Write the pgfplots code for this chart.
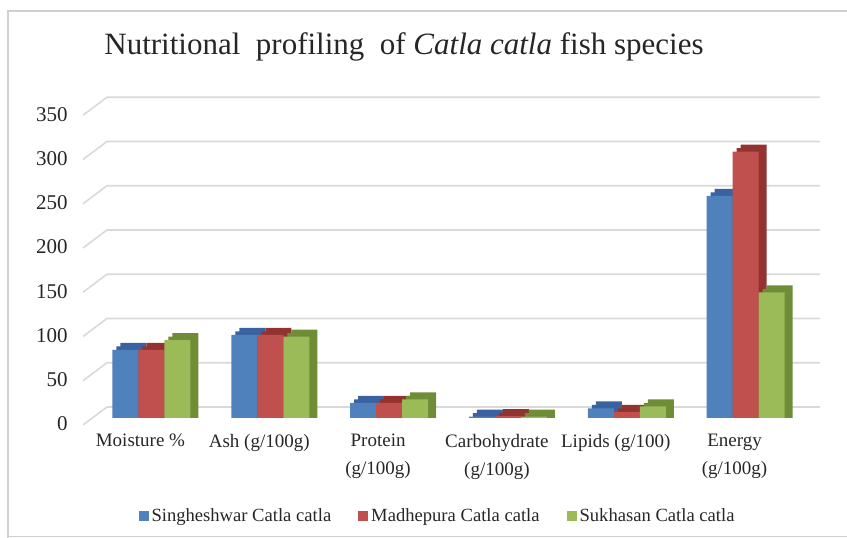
\documentclass[border=0pt]{standalone}
\usepackage{fontspec}
\setmainfont{Liberation Serif}
\usepackage{pgfplots}
\pgfplotsset{compat=1.18}
\usepackage{pgfplotstable}
\definecolor{cb}{HTML}{4F81BD}
\definecolor{cr}{HTML}{C0504D}
\definecolor{cg}{HTML}{9BBB59}
\definecolor{cbd}{HTML}{3A62A0}
\definecolor{crd}{HTML}{93332F}
\definecolor{cgd}{HTML}{6F8C37}
\definecolor{gridc}{HTML}{D9D9D9}
\definecolor{bordc}{HTML}{D0D0D0}
\definecolor{txt}{HTML}{262626}
\pgfplotstableread{
x b r g
0 77 77 88
1 94 94 92
2 17 17 21
3 1.5 2 1.5
4 11 7 13
5 251 301 142
}\datatable
\begin{document}
\begin{tikzpicture}[x=1bp,y=1bp]
\draw[bordc, line width=1.2bp] (8,0) -- (8,527) -- (847,527);
\draw[bordc, line width=1bp] (8,1.5) -- (847,1.5);
\node[font=\fontsize{31bp}{36bp}\selectfont, text=txt] at (404,491) {Nutritional\ \ profiling\ \ of \textit{Catla catla} fish\ species};
\begin{axis}[
  at={(92bp,120bp)}, anchor=south west,
  scale only axis, width=713bp, height=309.75bp,
  set layers, clip=false,
  ybar,
  xmin=-0.5, xmax=5.5, ymin=0, ymax=350,
  enlargelimits=false,
  axis lines=left,
  axis line style={draw=none,-},
  tick style={draw=none},
  xtick={0,1,2,3,4,5},
  xticklabels={{Moisture \%},{Ash (g/100g)},{Protein\\(g/100g)},{Carbohydrate\\(g/100g)},{Lipids (g/100)},{Energy\\(g/100g)}},
  ytick={0,50,100,150,200,250,300,350},
  /pgf/number format/assume math mode=true,
  xticklabel style={font=\fontsize{19bp}{28bp}\selectfont, text=txt, align=center, anchor=north, inner sep=0pt, yshift=-14bp, xshift=-11bp},
  yticklabel style={font=\fontsize{21bp}{24bp}\selectfont, text=txt, anchor=east, inner sep=0pt, xshift=-22bp, yshift=-6bp},
  legend columns=3,
  legend style={at={(0.4853,-0.3164)}, anchor=center, draw=none, fill=none,
    font=\fontsize{18.6bp}{22bp}\selectfont, text=txt,
    /tikz/every even column/.append style={column sep=24bp},
    nodes={inner xsep=3bp}},
  every axis plot/.append style={bar width=26bp, draw=none},
]
\pgfplotsinvokeforeach{0,50,100,150,200,250,300,350}{
  \draw[gridc, line width=1.6bp, on layer=axis background]
    ([xshift=-9bp,yshift=-7bp]axis cs:-0.5,#1) -- ([xshift=15bp,yshift=11bp]axis cs:-0.5,#1)
    -- ([xshift=15bp,yshift=11bp]axis cs:5.5,#1);
}
% Singheshwar
\addplot[bar shift=-18bp, fill=cbd, forget plot] table[x=x, y expr=\thisrow{b}+7.9] {\datatable};
\addplot[bar shift=-22bp, fill=cbd, forget plot] table[x=x, y expr=\thisrow{b}+3.95] {\datatable};
\addplot[bar shift=-26bp, fill=cb,
  legend image code/.code={\fill[cb] (0bp,-5bp) rectangle (10bp,5bp);}] table[x=x, y=b] {\datatable};
\addlegendentry{Singheshwar Catla catla}
% Madhepura
\addplot[bar shift=8bp, fill=crd, forget plot] table[x=x, y expr=\thisrow{r}+7.9] {\datatable};
\addplot[bar shift=4bp, fill=crd, forget plot] table[x=x, y expr=\thisrow{r}+3.95] {\datatable};
\addplot[bar shift=0bp, fill=cr,
  legend image code/.code={\fill[cr] (0bp,-5bp) rectangle (10bp,5bp);}] table[x=x, y=r] {\datatable};
\addlegendentry{Madhepura Catla catla}
% Sukhasan
\addplot[bar shift=34bp, fill=cgd, forget plot] table[x=x, y expr=\thisrow{g}+7.9] {\datatable};
\addplot[bar shift=30bp, fill=cgd, forget plot] table[x=x, y expr=\thisrow{g}+3.95] {\datatable};
\addplot[bar shift=26bp, fill=cg,
  legend image code/.code={\fill[cg] (0bp,-5bp) rectangle (10bp,5bp);}] table[x=x, y=g] {\datatable};
\addlegendentry{Sukhasan Catla catla}
\end{axis}
\pgfresetboundingbox
\path[use as bounding box] (0,0) rectangle (847,538);
\end{tikzpicture}
\end{document}
